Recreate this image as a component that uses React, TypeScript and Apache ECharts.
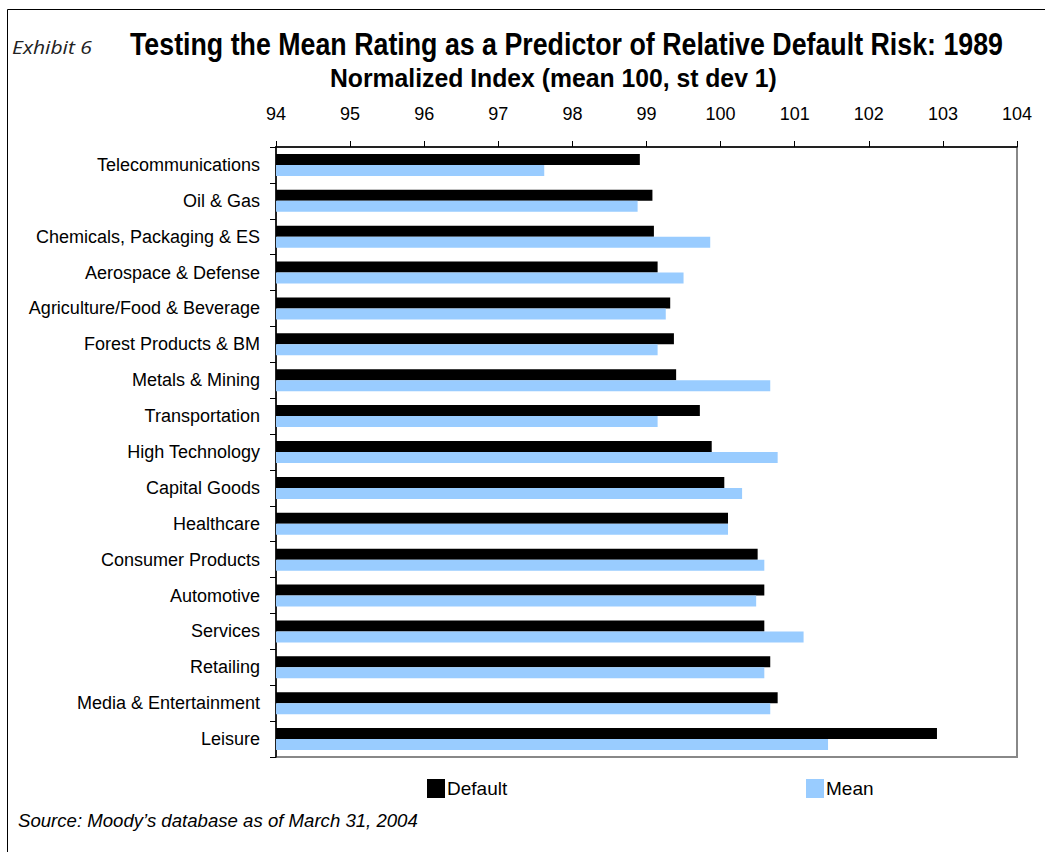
import React, { useEffect, useRef } from "react";
import * as echarts from "echarts";

const categories = [
  "Telecommunications",
  "Oil & Gas",
  "Chemicals, Packaging & ES",
  "Aerospace & Defense",
  "Agriculture/Food & Beverage",
  "Forest Products & BM",
  "Metals & Mining",
  "Transportation",
  "High Technology",
  "Capital Goods",
  "Healthcare",
  "Consumer Products",
  "Automotive",
  "Services",
  "Retailing",
  "Media & Entertainment",
  "Leisure",
];

const defaultValues = [
  98.91, 99.08, 99.1, 99.15, 99.32, 99.37, 99.4, 99.72, 99.88, 100.05, 100.1,
  100.5, 100.59, 100.59, 100.67, 100.77, 102.92,
];

const meanValues = [
  97.62, 98.88, 99.86, 99.5, 99.26, 99.15, 100.67, 99.15, 100.77, 100.29,
  100.1, 100.59, 100.48, 101.12, 100.59, 100.67, 101.45,
];

const xMin = 94;
const xMax = 104;
const xInterval = 1;

const TITLE = "Testing the Mean Rating as a Predictor of Relative Default Risk: 1989";
const SUBTITLE = "Normalized Index (mean 100, st dev 1)";
const SOURCE = "Source: Moody\u2019s database as of March 31, 2004";
const EXHIBIT = "Exhibit 6";

const SANS = "'Liberation Sans', Arial, sans-serif";

function measure(text: string, font: string): number {
  const c = document.createElement("canvas");
  const ctx = c.getContext("2d");
  if (!ctx) return 1;
  ctx.font = font;
  return ctx.measureText(text).width || 1;
}

function squeezedText(text: string, font: string, x: number, y: number, width: number, fill = "#000") {
  const w = measure(text, font);
  return {
    type: "text",
    x,
    y,
    scaleX: width / w,
    style: {
      text,
      font,
      fill,
      textAlign: "left",
      textVerticalAlign: "middle",
    },
  };
}

export default function App() {
  const ref = useRef<HTMLDivElement>(null);

  useEffect(() => {
    document.body.style.margin = "0";
    if (!ref.current) return;
    const chart = echarts.init(ref.current, undefined, { renderer: "svg" });

    const titleFont = "bold 32px 'Liberation Sans', Arial, sans-serif";
    const subFont = "bold 25px 'Liberation Sans', Arial, sans-serif";
    const srcFont = "italic 18px 'Liberation Sans', Arial, sans-serif";
    const exFont = "italic 19px 'Open Sans', sans-serif";

    chart.setOption({
      animation: false,
      backgroundColor: "#ffffff",
      legend: [
        {
          data: ["Default"],
          left: 422,
          top: 774,
          itemWidth: 18,
          itemHeight: 19,
          itemGap: 6,
          icon: "rect",
          textStyle: { fontFamily: SANS, fontSize: 19, color: "#000", padding: [0, 0, 0, -3] },
        },
        {
          data: ["Mean"],
          left: 801,
          top: 774,
          itemWidth: 18,
          itemHeight: 19,
          icon: "rect",
          textStyle: { fontFamily: SANS, fontSize: 19, color: "#000", padding: [0, 0, 0, -3] },
        },
      ],
      grid: {
        left: 276,
        top: 147,
        right: 28,
        bottom: 95,
        show: true,
        borderColor: "#888888",
        borderWidth: 2,
        backgroundColor: "transparent",
      },
      xAxis: {
        type: "value",
        position: "top",
        min: xMin,
        max: xMax,
        interval: xInterval,
        axisLine: { show: true, lineStyle: { color: "#000", width: 1.5 } },
        axisTick: { show: true, inside: false, length: 6, lineStyle: { color: "#000" } },
        splitLine: { show: false },
        axisLabel: {
          margin: 24,
          fontFamily: SANS,
          fontSize: 18,
          color: "#000",
        },
      },
      yAxis: {
        type: "category",
        data: categories,
        inverse: true,
        axisLine: { show: true, lineStyle: { color: "#000", width: 1.5 } },
        axisTick: { show: true, inside: false, length: 6, alignWithLabel: false, lineStyle: { color: "#000" } },
        splitLine: { show: false },
        axisLabel: {
          margin: 16,
          fontFamily: SANS,
          fontSize: 18,
          color: "#000",
        },
      },
      series: [
        {
          name: "Default",
          type: "bar",
          data: defaultValues,
          barWidth: 11,
          barGap: "0%",
          itemStyle: { color: "#000000" },
        },
        {
          name: "Mean",
          type: "bar",
          data: meanValues,
          barWidth: 11,
          barGap: "0%",
          itemStyle: { color: "#99CCFF" },
        },
      ],
      graphic: [
        {
          type: "line",
          shape: { x1: 7.5, y1: 9.5, x2: 1045, y2: 9.5 },
          style: { stroke: "#000", lineWidth: 1 },
        },
        {
          type: "line",
          shape: { x1: 7.5, y1: 9.5, x2: 7.5, y2: 852 },
          style: { stroke: "#000", lineWidth: 1 },
        },
        squeezedText(TITLE, titleFont, 130, 44, 873),
        squeezedText(SUBTITLE, subFont, 330, 78, 447),
        squeezedText(SOURCE, srcFont, 18, 821, 400),
        squeezedText(EXHIBIT, exFont, 12, 47, 80, "#222"),
      ],
    });
    return () => chart.dispose();
  }, []);

  return <div ref={ref} style={{ width: 1045, height: 852 }} />;
}
